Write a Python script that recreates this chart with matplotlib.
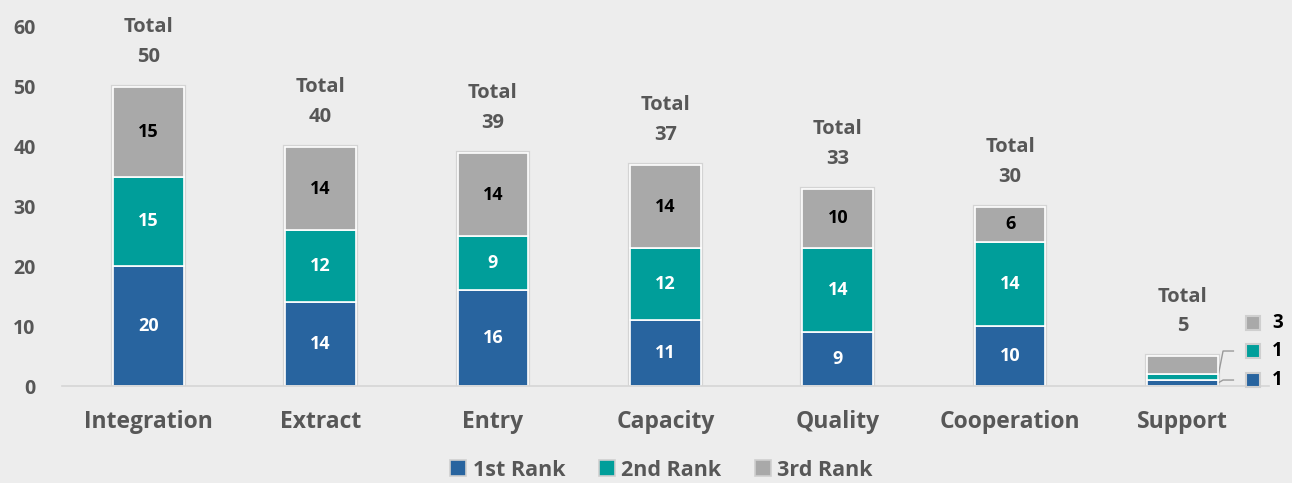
import matplotlib
matplotlib.use("Agg")
import matplotlib.pyplot as plt
import numpy as np

categories = ['Integration', 'Extract', 'Entry', 'Capacity', 'Quality', 'Cooperation', 'Support']
rank1 = [20, 14, 16, 11, 9, 10, 1]
rank2 = [15, 12, 9, 12, 14, 14, 1]
rank3 = [15, 14, 14, 14, 10, 6, 3]
series_names = ['1st Rank', '2nd Rank', '3rd Rank']
colors = ['#28649f', '#009e9a', '#a9a9a9']
text_colors = ['white', 'white', 'black']

plt.rcParams['font.family'] = ['Open Sans', 'DejaVu Sans']
plt.rcParams['font.weight'] = 'bold'

bg = '#ededed'
grey_txt = '#575757'

fig = plt.figure(figsize=(12.92, 4.83), dpi=100, facecolor=bg)
ax = fig.add_axes([0.048, 0.2008, 0.934, 0.7433], facecolor=bg)

x = np.arange(len(categories))
width = 0.41
series = [rank1, rank2, rank3]
totals = np.sum(series, axis=0)

# faint outline around every stack
ax.bar(x, totals, width, color='none', edgecolor='#d4d4d4', linewidth=3, zorder=1)

bottom = np.zeros(len(categories))
handles = []
for vals, col, name, tc in zip(series, colors, series_names, text_colors):
    bars = ax.bar(x, vals, width, bottom=bottom, color=col, edgecolor='white',
                  linewidth=1.2, label=name, zorder=2)
    handles.append(bars)
    for i, v in enumerate(vals):
        if categories[i] == 'Support':
            continue
        ax.text(x[i], bottom[i] + v / 2, str(v), ha='center', va='center',
                color=tc, fontsize=13, fontweight='bold', zorder=3)
    bottom += vals

for i, t in enumerate(totals):
    ax.text(x[i], t + 3.3, 'Total\n%d' % t, ha='center', va='bottom',
            color=grey_txt, fontsize=14.5, fontweight='bold', linespacing=1.65)

# small side legend for the thin Support bar
si = categories.index('Support')
edge = x[si] + width / 2
label_y = [1.0, 5.85, 10.5]
seg_bottom = 0
for k, (vals, col) in enumerate(zip(series, colors)):
    v = vals[si]
    mid = seg_bottom + v / 2
    ax.plot(x[si] + 0.41, label_y[k], marker='s', markersize=10, color=col,
            markeredgecolor='#cfcfcf', markeredgewidth=1.5, clip_on=False, zorder=4)
    ax.text(x[si] + 0.55, label_y[k], str(v), ha='center', va='center',
            color='black', fontsize=13.5, fontweight='bold')
    if k < 2:
        ax.plot([edge, edge + 0.03, edge + 0.09], [mid, label_y[k], label_y[k]],
                color='#9a9a9a', lw=1, clip_on=False, zorder=1)
    seg_bottom += v

ax.set_xlim(-0.5, 6.5)
ax.set_ylim(0, 60)
ax.set_yticks(range(0, 61, 10))
ax.set_xticks(x)
ax.set_xticklabels(categories, fontsize=16.5, color=grey_txt, fontweight='bold')
ax.tick_params(axis='y', labelsize=14, labelcolor=grey_txt, length=0, pad=19)
ax.tick_params(axis='x', length=0, pad=17)
for s in ['top', 'right', 'left']:
    ax.spines[s].set_visible(False)
ax.spines['bottom'].set_color('#d6d6d6')
ax.spines['bottom'].set_linewidth(1.2)
for lab in ax.get_yticklabels():
    lab.set_fontweight('bold')

leg = fig.legend(handles=handles, labels=series_names, loc='lower center',
                 bbox_to_anchor=(0.512, -0.035), ncol=3, frameon=False,
                 fontsize=15.5, handlelength=0.75, handleheight=0.75,
                 handletextpad=0.3, columnspacing=1.55)
for h in leg.legend_handles:
    h.set_edgecolor('#cfcfcf')
    h.set_linewidth(1.2)
for t in leg.get_texts():
    t.set_color(grey_txt)
    t.set_fontweight('bold')

fig.savefig('out.png', dpi=100, facecolor=bg)
